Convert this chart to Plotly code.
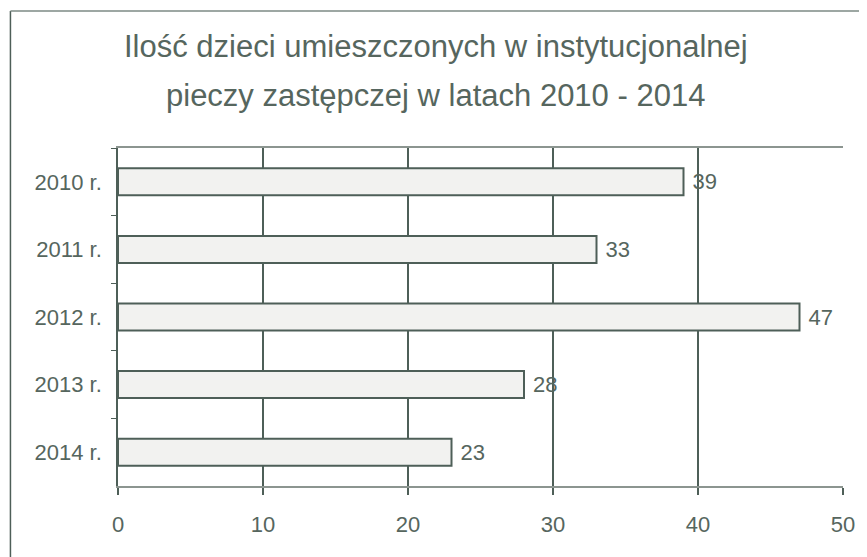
import plotly.graph_objects as go

categories = ["2010 r.", "2011 r.", "2012 r.", "2013 r.", "2014 r."]
values = [39, 33, 47, 28, 23]
x_ticks = [0, 10, 20, 30, 40, 50]
title_lines = ["Ilość dzieci umieszczonych w instytucjonalnej",
               "pieczy zastępczej w latach 2010 - 2014"]

ink = "#4e5f58"
text_col = "#56665e"
FONT = "Liberation Sans, Arial"

# page offset (browser body margin) compensation
OFF = 8
FW, FH = 867 - OFF, 557 - OFF
W0, W1 = 118 - OFF, 846 - OFF
T0, T1 = 148 - OFF, 486 - OFF
pw, ph = W1 - W0, T1 - T0


def px(x):
    return (x - OFF - W0) / pw


def py(y):
    return (T1 - (y - OFF)) / ph


fig = go.Figure()
fig.add_trace(go.Bar(
    y=categories, x=values, orientation="h",
    marker=dict(color="#f2f2f0", line=dict(color=ink, width=2)),
    text=[" " + str(v) for v in values], textposition="outside",
    textfont=dict(family=FONT, size=22, color=text_col),
    cliponaxis=False, width=0.4,
))

annotations = [
    dict(text=title_lines[0], x=0.5 * (px(121) + px(753)), y=py(47), xref="paper", yref="paper",
         xanchor="center", yanchor="middle", showarrow=False,
         font=dict(family=FONT, size=31, color=text_col)),
    dict(text=title_lines[1], x=0.5 * (px(121) + px(753)), y=py(95), xref="paper", yref="paper",
         xanchor="center", yanchor="middle", showarrow=False,
         font=dict(family=FONT, size=31, color=text_col)),
]

fig.update_layout(
    width=FW, height=FH,
    margin=dict(l=W0, r=FW - W1, t=T0, b=FH - T1, pad=0),
    paper_bgcolor="white", plot_bgcolor="white",
    showlegend=False,
    font=dict(family=FONT, color=text_col),
    xaxis=dict(range=[0, 50], tickvals=x_ticks, showgrid=True, gridcolor=ink, gridwidth=1.5,
               showline=True, linecolor="#8c9590", linewidth=1.5, mirror=True,
               ticks="outside", ticklen=7, tickcolor=ink, tickwidth=1.5,
               ticklabelstandoff=11,
               tickfont=dict(family=FONT, size=22, color=text_col), zeroline=False),
    yaxis=dict(autorange="reversed", type="category", showgrid=False,
               showline=True, linecolor=ink, linewidth=1.5,
               ticks="outside", tickson="boundaries", ticklen=5, tickcolor=ink,
               ticklabelstandoff=10,
               tickfont=dict(family=FONT, size=22, color=text_col)),
    annotations=annotations,
    shapes=[
        dict(type="line", xref="paper", yref="paper", x0=px(10), x1=px(10), y0=py(11), y1=py(600),
             line=dict(color=ink, width=1.5)),
        dict(type="line", xref="paper", yref="paper", x0=px(10), x1=px(900), y0=py(11), y1=py(11),
             line=dict(color="#7d8a84", width=1.5)),
    ],
)

fig.write_html("out.html")
